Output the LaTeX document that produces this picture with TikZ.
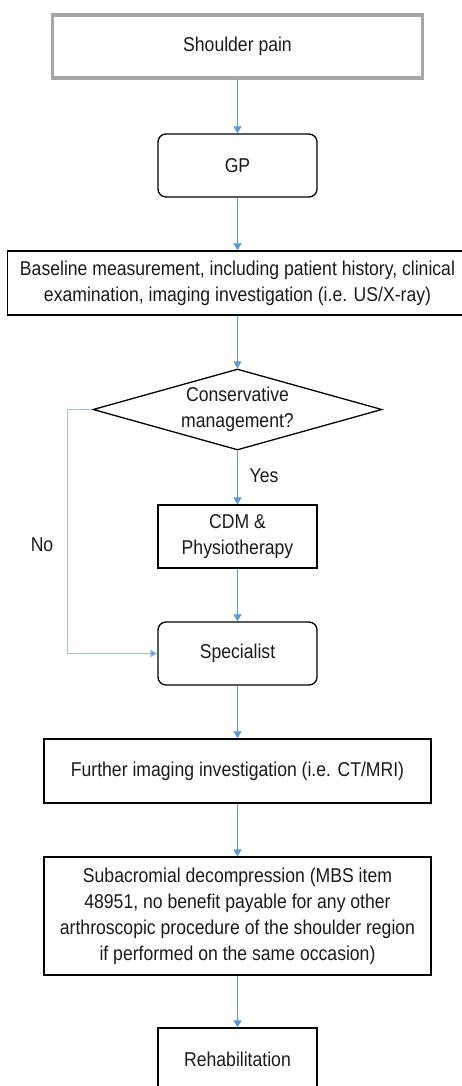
\documentclass[tikz,border=0pt]{standalone}
\usepackage{fontspec}
\setmainfont{Liberation Sans}[FakeStretch=0.88]
\usetikzlibrary{arrows.meta,shapes.geometric}
\definecolor{arrowblue}{HTML}{5B9BD5}
\definecolor{noblue}{HTML}{9DC3E6}
\definecolor{framegray}{HTML}{A6A6A6}
\definecolor{txt}{HTML}{1A1A1A}
\begin{document}
\begin{tikzpicture}[x=1pt,y=-1pt,
  font=\fontsize{20}{26}\selectfont,
  every node/.style={text=txt, align=center, inner sep=0pt},
  box/.style={draw=black, line width=1.3pt, rectangle},
  rbox/.style={box, rounded corners=8pt},
  flow/.style={draw=arrowblue, line width=1pt, -{Triangle[width=8pt,length=7pt]}},
  noflow/.style={draw=noblue, line width=1pt, -{Triangle[width=8pt,length=7pt,fill=arrowblue]}},
  lbl/.style={font=\fontsize{20}{26}\selectfont}
]
\clip (0,0) rectangle (462,1086);
\node[draw=framegray, line width=3.5pt, minimum width=370pt, minimum height=63pt] (pain) at (237.5,46.5) {Shoulder pain};
\node[rbox, minimum width=159pt, minimum height=63pt] (gp) at (237.5,165.5) {GP};
\node[box, minimum width=460pt, minimum height=64pt] (base) at (237.5,283) {Baseline measurement, including patient history, clinical\\examination, imaging investigation (i.e. US/X-ray)};
\node[draw=black, line width=1.3pt, shape=diamond, aspect=3.57, minimum width=289pt, minimum height=81pt] (cons) at (237.5,409.5) {Conservative\\management?};
\node[box, minimum width=159pt, minimum height=63pt] (cdm) at (237.5,536.5) {CDM \&\\Physiotherapy};
\node[rbox, minimum width=159pt, minimum height=63pt] (spec) at (237.5,653.5) {Specialist};
\node[box, minimum width=387pt, minimum height=64pt] (further) at (237.5,771) {Further imaging investigation (i.e. CT/MRI)};
\node[box, minimum width=387pt, minimum height=118pt] (sad) at (237.5,916) {Subacromial decompression (MBS item\\48951, no benefit payable for any other\\arthroscopic procedure of the shoulder region\\if performed on the same occasion)};
\node[box, minimum width=159pt, minimum height=63pt] (rehab) at (237.5,1059.5) {Rehabilitation};
\node[lbl] (yes) at (264,476) {Yes};
\node[lbl] (no) at (42,545) {No};
\coordinate (nocorner1) at (67,409.5);
\coordinate (nocorner2) at (67,653.5);
\draw[flow] (pain.south) -- (gp.north);
\draw[flow] (gp.south) -- (base.north);
\draw[flow] (base.south) -- (cons.north);
\draw[flow] (cons.south) -- (cdm.north);
\draw[flow] (cdm.south) -- (spec.north);
\draw[noflow] (cons.west) -- (nocorner1) -- (nocorner2) -- (spec.west);
\draw[flow] (spec.south) -- (further.north);
\draw[flow] (further.south) -- (sad.north);
\draw[flow] (sad.south) -- (rehab.north);
\end{tikzpicture}
\end{document}
